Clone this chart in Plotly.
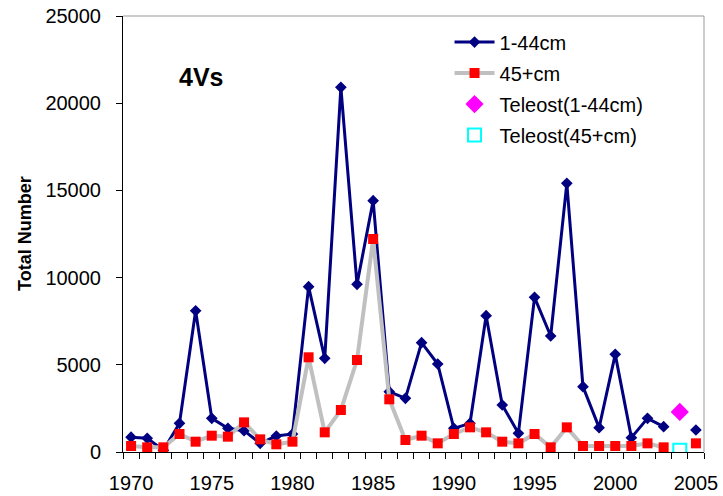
import plotly.graph_objects as go

years = list(range(1970, 2006))
small_fish = [850, 785, 100, 1645, 8100, 1930, 1357, 1222, 500, 917, 1032, 9480,
              5370, 20910, 9615, 14410, 3460, 3077, 6270, 5046, 1357, 1645, 7815, 2695, 1070,
              8870, 6651, 15405, 3747, 1395, 5600, 822, 1930, 1453, None, 1261]
large_fish = [344, 268, 268, 1032, 592, 936, 879, 1700, 726, 440, 592, 5430,
              1128, 2408, 5275, 12213, 3020, 688, 936, 497, 1032, 1414, 1128, 592, 497,
              1032, 268, 1414, 344, 344, 344, 344, 497, 268, None, 497]
teleost_year = [2004]
teleost_small = [2300]
teleost_large = [100]
x_ticks = [1970, 1975, 1980, 1985, 1990, 1995, 2000, 2005]
y_ticks = [0, 5000, 10000, 15000, 20000, 25000]
y_tick_labels = ["0", "5000", "10000", "15000", "20000", "25000"]

FONT = "Arial, Liberation Sans, sans-serif"

fig = go.Figure()
fig.add_trace(go.Scatter(x=years, y=small_fish, name="1-44cm", mode="lines+markers",
                         line=dict(color="#000080", width=3),
                         marker=dict(symbol="diamond", size=9, color="#000080"),
                         legendgroup="a"))
fig.add_trace(go.Scatter(x=years, y=large_fish, name="45+cm", mode="lines+markers",
                         line=dict(color="#C0C0C0", width=4),
                         marker=dict(symbol="square", size=10, color="#FF0000"),
                         legendgroup="b"))
fig.add_trace(go.Scatter(x=teleost_year, y=teleost_small, name="Teleost(1-44cm)", mode="markers",
                         marker=dict(symbol="diamond", size=14, color="#FF00FF"),
                         legendgroup="c"))
fig.add_trace(go.Scatter(x=teleost_year, y=teleost_large, name="Teleost(45+cm)", mode="markers",
                         marker=dict(symbol="square-open", size=13, color="#00FFFF",
                                     line=dict(width=2)),
                         legendgroup="d"))

fig.update_layout(
    width=723, height=496,
    margin=dict(l=123, r=19, t=16, b=44),
    paper_bgcolor="white", plot_bgcolor="white",
    font=dict(family=FONT, size=20, color="black"),
    showlegend=True,
    legend=dict(x=0.562, y=0.985, xanchor="left", yanchor="top",
                bgcolor="rgba(0,0,0,0)", font=dict(size=20),
                tracegroupgap=2, itemwidth=40),
    xaxis=dict(range=[1969.5, 2005.5], tickvals=x_ticks, ticks="",
               showgrid=False, zeroline=False, showline=True, linecolor="black", linewidth=1,
               ticklabelstandoff=13, automargin=False,
               minor=dict(ticks="outside", tick0=1969.5, dtick=1, ticklen=6,
                          tickcolor="black", showgrid=False)),
    yaxis=dict(range=[0, 25000], tickvals=y_ticks, ticktext=y_tick_labels,
               ticks="outside", ticklen=6, automargin=False,
               tickcolor="black", showgrid=False, zeroline=False, showline=True,
               linecolor="black", linewidth=1, ticklabelstandoff=11),
    shapes=[
        dict(type="line", xref="paper", yref="paper", x0=0, y0=1, x1=1, y1=1,
             line=dict(color="#999999", width=1), layer="above"),
        dict(type="line", xref="paper", yref="paper", x0=1, y0=0, x1=1, y1=1,
             line=dict(color="#999999", width=1), layer="above"),
    ],
    annotations=[
        dict(text="<b>Total Number</b>", xref="paper", yref="paper",
             x=(25 - 123) / 581, y=0.5, xanchor="center", yanchor="middle",
             textangle=-90, showarrow=False, font=dict(size=18)),
        dict(text="<b>4Vs</b>", xref="paper", yref="paper",
             x=(201 - 123) / 581, y=(452 - 77) / 436, xanchor="center", yanchor="middle",
             showarrow=False, font=dict(size=25)),
    ],
)

fig.write_html("out.html")
